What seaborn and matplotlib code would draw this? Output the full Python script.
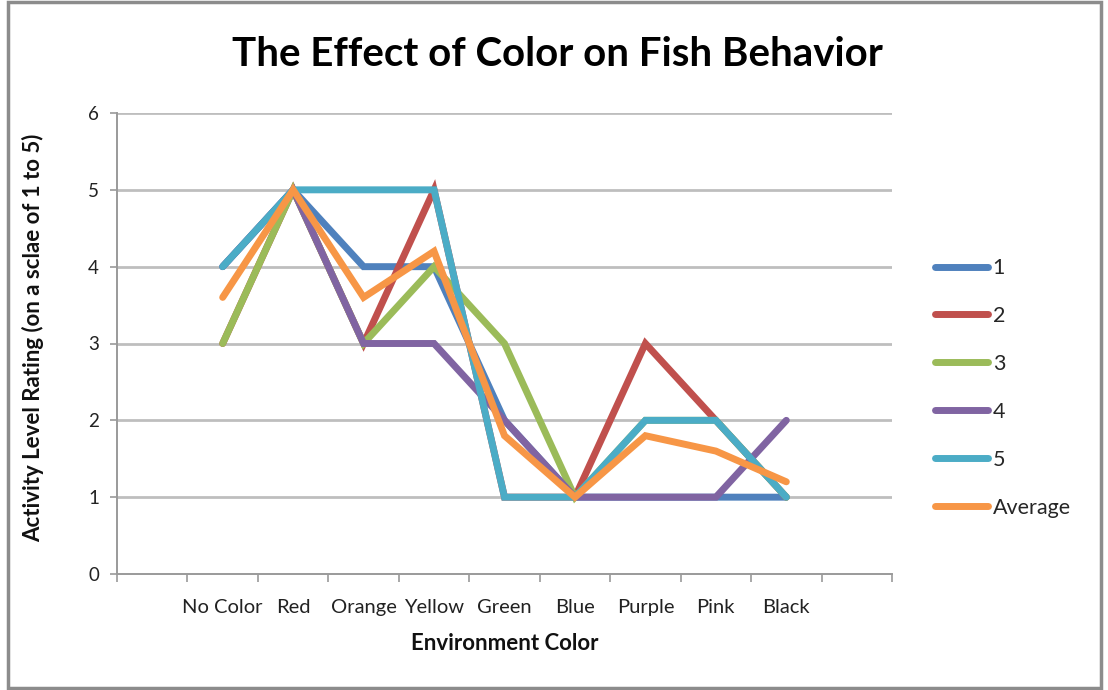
import matplotlib
matplotlib.use("Agg")
import matplotlib.pyplot as plt
import matplotlib.patches as mpatches
import numpy as np
import pandas as pd
import seaborn as sns

# Environment colours tested (x categories)
categories = ["No Color", "Red", "Orange", "Yellow", "Green", "Blue", "Purple", "Pink", "Black"]

# Activity ratings per trial (1 to 5) and their average
trial_1 = [4, 5, 4, 4, 2, 1, 1, 1, 1]
trial_2 = [3, 5, 3, 5, 1, 1, 3, 2, 1]
trial_3 = [3, 5, 3, 4, 3, 1, 2, 2, 1]
trial_4 = [4, 5, 3, 3, 2, 1, 1, 1, 2]
trial_5 = [4, 5, 5, 5, 1, 1, 2, 2, 1]
average = [3.6, 5, 3.6, 4.2, 1.8, 1, 1.8, 1.6, 1.2]

series_names = ["1", "2", "3", "4", "5", "Average"]
series_values = [trial_1, trial_2, trial_3, trial_4, trial_5, average]
palette = ["#4F81BD", "#C0504D", "#9BBB59", "#8064A2", "#4BACC6", "#F79646"]

rows = []
for name, vals in zip(series_names, series_values):
    for i, (cat, v) in enumerate(zip(categories, vals)):
        # one empty category slot on each side of the data
        rows.append({"series": name, "pos": i + 1, "category": cat, "rating": v})
df = pd.DataFrame(rows)

sns.set_style("white")
plt.rcParams["font.family"] = ["Lato", "DejaVu Sans"]

fig = plt.figure(figsize=(11.08, 6.9), dpi=100)
ax = fig.add_axes([117 / 1108, 1 - 574 / 690, (892 - 117) / 1108, (574 - 113) / 690])

grid_col = "#BEBEBE"
for yv in range(1, 7):
    ax.axhline(yv, color=grid_col, lw=2.0, zorder=0)

sns.lineplot(data=df, x="pos", y="rating", hue="series", hue_order=series_names,
             palette=palette, linewidth=5, sort=False, ax=ax,
             solid_capstyle="round", solid_joinstyle="miter", legend=True)

n_slots = len(categories) + 2
ax.set_xlim(-0.5, n_slots - 0.5)
ax.set_ylim(0, 6)

# y axis
ax.set_yticks(range(0, 7))
ax.set_yticklabels([str(v) for v in range(0, 7)], fontsize=13.5, color="#222222")
ax.tick_params(axis="y", which="major", direction="out", length=5, width=1.2,
               color="#9A9A9A", pad=8, left=True)

# x axis: boundary ticks, category labels in between
ax.set_xticks(np.arange(-0.5, n_slots, 1.0))
ax.set_xticklabels([])
ax.tick_params(axis="x", which="major", direction="out", length=6, width=1.2,
               color="#9A9A9A", bottom=True)
ax.set_xticks(np.arange(1, len(categories) + 1), minor=True)
ax.set_xticklabels(categories, minor=True, fontsize=14.5, color="#222222")
ax.tick_params(axis="x", which="minor", length=0, pad=18)

for side in ["top", "right"]:
    ax.spines[side].set_visible(False)
for side in ["left", "bottom"]:
    ax.spines[side].set_color("#9A9A9A")
    ax.spines[side].set_linewidth(1.4)

ax.set_xlabel("Environment Color", fontsize=16, fontweight="bold", color="#111111")
ax.xaxis.set_label_coords((505 - 117) / 775, (574 - 643) / 461)
ax.set_ylabel("Activity Level Rating (on a sclae of 1 to 5)", fontsize=16,
              fontweight="bold", color="#111111")
ax.yaxis.set_label_coords((33 - 117) / 775, (574 - 338) / 461)
ax.yaxis.label.set_va("center")
ax.xaxis.label.set_va("center")

fig.suptitle("The Effect of Color on Fish Behavior", fontsize=29, fontweight="bold",
             x=557 / 1108, y=1 - 55 / 690, va="center", color="#000000")

handles, labels = ax.get_legend_handles_labels()
ax.get_legend().remove()
for h in handles:
    h.set_linewidth(5)
fig.legend(handles, labels, loc="center left", bbox_to_anchor=(926 / 1108, 1 - 388 / 690),
           frameon=False, fontsize=15.5, handlelength=2.5, handletextpad=0.2,
           labelspacing=1.3, borderaxespad=0)

# chart frame
fig.patches.append(mpatches.Rectangle((8 / 1108, 2 / 690), (1101 - 8) / 1108, (688 - 2) / 690,
                                      transform=fig.transFigure, fill=False,
                                      edgecolor="#8C8C8C", linewidth=2.5))

fig.savefig("out.png", dpi=100, facecolor="white")
